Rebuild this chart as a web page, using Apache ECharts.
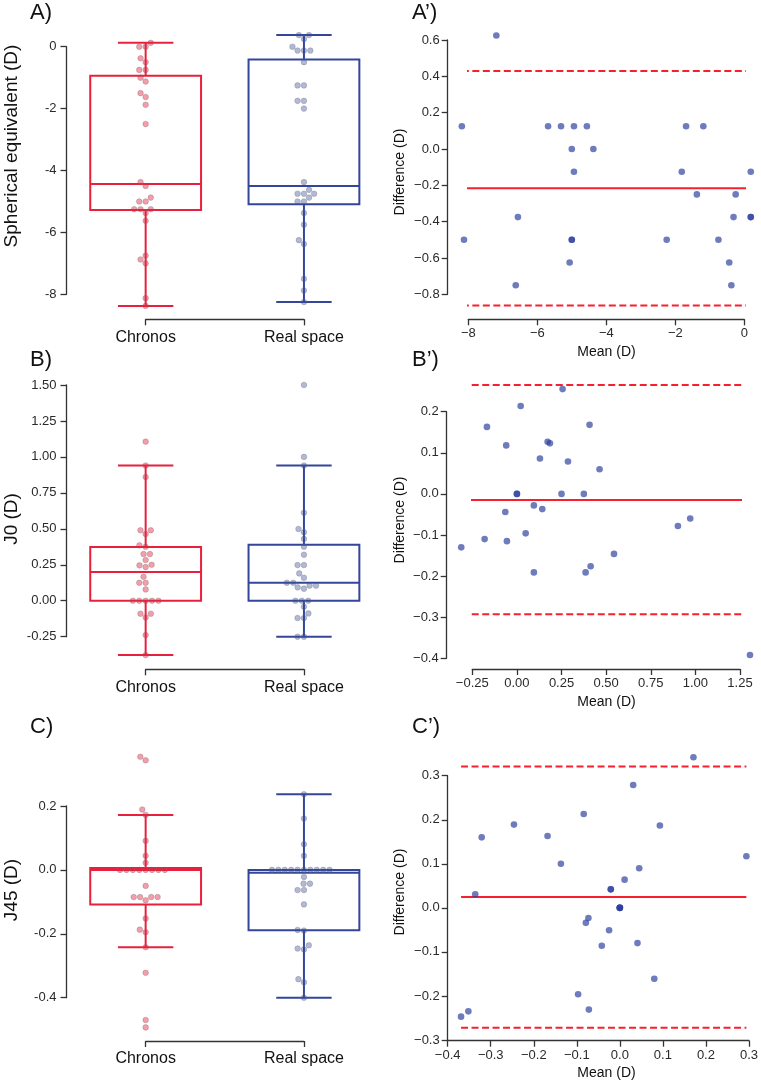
<!DOCTYPE html>
<html>
<head>
<meta charset="utf-8">
<script src="https://cdn.jsdelivr.net/npm/echarts@6/dist/echarts.min.js"></script>
<style>
html,body{margin:0;padding:0;background:#fff;}
#chart{width:761px;height:1081px;}
</style>
</head>
<body>
<div id="chart"></div>
<script>
// ---------------- DATA ----------------
const categories = ['Chronos', 'Real space'];

// Panel A: Spherical equivalent (D)
const chronosSE = [0.125, 0, 0, -0.375, -0.5, -0.75, -0.75, -1.0, -1.125, -1.5, -1.625, -1.875, -2.5, -4.375, -4.5, -4.875, -5.0, -5.0, -5.25, -5.25, -5.25, -5.375, -5.625, -6.75, -6.875, -7.0, -8.125, -8.375];
const realSE = [0.375, 0.375, 0.25, 0, -0.125, -0.125, -0.125, -0.5, -1.25, -1.25, -1.75, -1.75, -2.0, -4.375, -4.625, -4.75, -4.75, -4.75, -4.875, -5.0, -5.0, -5.375, -5.75, -6.25, -6.375, -7.5, -7.875, -8.25];
// box stats: [min whisker, Q1, median, Q3, max whisker]
const boxChronosSE = [-8.375, -5.28, -4.44, -0.94, 0.125];
const boxRealSE = [-8.25, -5.09, -4.5, -0.41, 0.375];

// Panel A': Bland-Altman SE
const meanSE = [-7.1875, -8.1875, -8.125, -6.5625, -6.625, -5.6875, -5.3125, -4.9375, -4.5625, -5.0, -4.375, -4.9375, -5.0, -5.0, -5.0625, -2.25, -1.8125, -1.6875, -1.1875, -1.375, -0.75, -0.4375, -0.375, -0.3125, -0.25, 0.1875, 0.1875, 0.1875];
const diffSE = [0.625, 0.125, -0.5, -0.375, -0.75, 0.125, 0.125, 0.125, 0.125, 0, 0, -0.125, -0.5, -0.5, -0.625, -0.5, -0.125, 0.125, 0.125, -0.25, -0.5, -0.625, -0.75, -0.375, -0.25, -0.125, -0.375, -0.375];
const loaSE = [-0.216, 0.429, -0.861]; // mean, upper, lower

// Panel B: J0 (D)
const chronosJ0 = [1.106, 0.94, 0.86, 0.49, 0.49, 0.464, 0.385, 0.375, 0.325, 0.325, 0.283, 0.25, 0.246, 0.234, 0.167, 0.125, 0.125, 0.079, 0, 0, 0, 0, 0, -0.09, -0.09, -0.116, -0.239, -0.378];
const realJ0 = [1.5, 1.0, 0.94, 0.612, 0.499, 0.476, 0.43, 0.376, 0.32, 0.248, 0.248, 0.19, 0.16, 0.125, 0.125, 0.105, 0.105, 0.093, 0.084, 0, 0, 0, -0.042, -0.088, -0.12, -0.12, -0.25, -0.25];
const boxChronosJ0 = [-0.378, 0.0, 0.20, 0.373, 0.94];
const boxRealJ0 = [-0.25, 0.0, 0.125, 0.39, 0.94];

// Panel B': Bland-Altman J0
const meanJ0 = [-0.312, -0.181, -0.168, -0.060, -0.065, -0.056, 0, 0, 0.021, 0.049, 0.095, 0.095, 0.129, 0.142, 0.172, 0.185, 0.250, 0.256, 0.286, 0.375, 0.385, 0.407, 0.413, 0.463, 0.544, 0.902, 0.971, 1.306];
const diffJ0 = [-0.130, -0.110, 0.163, 0.118, -0.044, -0.115, 0, 0, 0.214, -0.096, -0.028, -0.191, 0.086, -0.037, 0.127, 0.123, 0, 0.255, 0.079, 0, -0.191, 0.168, -0.176, 0.060, -0.146, -0.078, -0.060, -0.392];
const loaJ0 = [-0.0146, 0.265, -0.293];

// Panel C: J45 (D)
const chronosJ45 = [0.354, 0.343, 0.189, 0.172, 0.091, 0.044, 0.022, 0, 0, 0, 0, 0, 0, 0, 0, -0.05, -0.085, -0.085, -0.085, -0.085, -0.095, -0.152, -0.187, -0.195, -0.242, -0.322, -0.47, -0.493];
const realJ45 = [0.237, 0.161, 0.08, 0.044, 0, 0, 0, 0, 0, 0, 0, 0, 0, 0, -0.022, -0.043, -0.043, -0.063, -0.063, -0.108, -0.188, -0.19, -0.236, -0.246, -0.249, -0.342, -0.352, -0.40];
const boxChronosJ45 = [-0.242, -0.108, 0.0, 0.006, 0.172];
const boxRealJ45 = [-0.40, -0.189, -0.009, 0.0, 0.237];

// Panel C': Bland-Altman J45
const meanJ45 = [-0.369, -0.352, -0.336, -0.321, -0.246, -0.168, -0.137, -0.097, -0.084, -0.079, -0.073, -0.072, -0.042, -0.025, -0.021, -0.021, 0, 0, 0, 0, 0.011, 0.031, 0.041, 0.045, 0.080, 0.093, 0.171, 0.294];
const diffJ45 = [-0.247, -0.235, 0.031, 0.160, 0.189, 0.163, 0.100, -0.196, 0.213, -0.034, -0.023, -0.231, -0.086, -0.051, 0.042, 0.042, 0, 0, 0, 0, 0.064, 0.279, -0.080, 0.090, -0.161, 0.187, 0.342, 0.117];
const loaJ45 = [0.0245, 0.321, -0.272];

// ---------------- STYLE / LAYOUT ----------------
const FONT = '"Liberation Sans", Arial, sans-serif';
const RED = '#E8203D';
const BLUE = '#33469A';
const PT_FILL = ['rgba(232,32,61,0.44)', 'rgba(51,70,154,0.38)'];
const PT_EDGE = 'rgba(110,110,110,0.55)';
const BA_DOT = 'rgba(43,63,158,0.86)';
const LOA_RED = '#F8202F';
const SPINE = '#333333';
const TICK_TXT = '#2a2a2a';

const boxPanels = [
  {grid:{left:66.5, top:46.7, width:316.6, height:247.6}, spineTop:318.3, y:[-8, 0, 2], dec:0,
   data:[chronosSE, realSE], box:[boxChronosSE, boxRealSE], name:'Spherical equivalent (D)', nameY:146, title:'A)', titleY:12.5},
  {grid:{left:66.5, top:385, width:316.6, height:251.7}, spineTop:668.3, y:[-0.25, 1.5, 0.25], dec:2,
   data:[chronosJ0, realJ0], box:[boxChronosJ0, boxRealJ0], name:'J0 (D)', nameY:519, title:'B)', titleY:360},
  {grid:{left:66.5, top:806, width:316.6, height:191.7}, spineTop:1040, y:[-0.4, 0.2, 0.2], dec:1,
   data:[chronosJ45, realJ45], box:[boxChronosJ45, boxRealJ45], name:'J45 (D)', nameY:890, title:'C)', titleY:727}
];
const baPanels = [
  {grid:{left:468.3, top:40, width:276, height:254.3}, x:[-8, 0, 2], xdec:0, y:[-0.8, 0.6, 0.2], ydec:1, xoff:25, yoff:20.6,
   mean:meanSE, diff:diffSE, loa:loaSE, nameY:172, xnameY:351.7, title:'A\u2019)', titleY:12.5},
  {grid:{left:472.3, top:411.7, width:267.7, height:246.6}, x:[-0.25, 1.25, 0.25], xdec:2, y:[-0.4, 0.2, 0.1], ydec:1, xoff:10.7, yoff:25.6,
   mean:meanJ0, diff:diffJ0, loa:loaJ0, nameY:520, xnameY:702, title:'B\u2019)', titleY:360},
  {grid:{left:447.7, top:775.7, width:305, height:264.3}, x:[-0.4, 0.3, 0.1], xdec:1, y:[-0.3, 0.3, 0.1], ydec:1, xoff:0.7, yoff:0,
   mean:meanJ45, diff:diffJ45, loa:loaJ45, nameY:892, xnameY:1072.7, title:'C\u2019)', titleY:727}
];

function fmt(dec, minusChar) {
  return function (v) {
    if (Math.abs(v) < 1e-9) v = 0;
    return v.toFixed(dec).replace('-', minusChar);
  };
}

// beeswarm layout (seaborn-like), in pixel space
function swarmOffsets(values, pxPerY, d) {
  const order = values.map((v, i) => i).sort((a, b) => values[a] - values[b]);
  const placed = [];
  const off = new Array(values.length).fill(0);
  for (const i of order) {
    const y = values[i] * pxPerY;
    const neigh = placed.filter(p => Math.abs(p.y - y) < d);
    const cands = [0];
    for (const p of neigh) {
      const dx = Math.sqrt(Math.max(0, d * d - (p.y - y) * (p.y - y)));
      cands.push(p.x - dx, p.x + dx);
    }
    cands.sort((a, b) => Math.abs(a) - Math.abs(b));
    let x = 0;
    for (const c of cands) {
      if (neigh.every(p => (p.x - c) * (p.x - c) + (p.y - y) * (p.y - y) >= d * d - 1e-6)) { x = c; break; }
    }
    placed.push({x: x, y: y});
    off[i] = x;
  }
  return off;
}

const grids = [], xAxes = [], yAxes = [], series = [], graphics = [];
const axisLineCfg = {show: true, onZero: false, lineStyle: {color: SPINE, width: 1.3}};
const tickCfg = {show: true, length: 6, lineStyle: {color: SPINE, width: 1.3}};

boxPanels.forEach((P) => {
  // main grid
  const gi = grids.length;
  grids.push(Object.assign({containLabel: false}, P.grid));
  xAxes.push({gridIndex: gi, type: 'value', min: -0.5, max: 1.5, show: false, axisLine: {onZero: false}});
  yAxes.push({gridIndex: gi, type: 'value', min: P.y[0], max: P.y[1], interval: P.y[2],
    axisLine: axisLineCfg, axisTick: tickCfg, splitLine: {show: false},
    axisLabel: {formatter: fmt(P.dec, '-'), fontFamily: FONT, fontSize: 13, color: TICK_TXT, margin: 10}});
  // spine grid for the trimmed category axis
  const si = grids.length;
  grids.push({left: P.grid.left + P.grid.width / 4, width: P.grid.width / 2, top: P.spineTop, height: 1});
  xAxes.push({gridIndex: si, type: 'category', data: categories, boundaryGap: false,
    axisLine: axisLineCfg, axisTick: tickCfg,
    axisLabel: {fontFamily: FONT, fontSize: 16, color: '#111', margin: 10}});
  yAxes.push({gridIndex: si, type: 'value', show: false, axisLine: {onZero: false}});

  // box plots
  const boxColors = [RED, BLUE];
  series.push({
    type: 'custom', xAxisIndex: gi, yAxisIndex: gi, clip: false, silent: true, z: 2,
    data: P.box.map((b, k) => [k, b[0], b[1], b[2], b[3], b[4]]),
    renderItem: function (params, api) {
      const k = api.value(0);
      const col = boxColors[k];
      const pMin = api.coord([k, api.value(1)]);
      const pQ1 = api.coord([k, api.value(2)]);
      const pMed = api.coord([k, api.value(3)]);
      const pQ3 = api.coord([k, api.value(4)]);
      const pMax = api.coord([k, api.value(5)]);
      const halfW = api.size([0.35, 0])[0];
      const capHalf = api.size([0.175, 0])[0];
      const cx = pMed[0];
      const ls = {stroke: col, lineWidth: 2, fill: null};
      return {type: 'group', children: [
        {type: 'line', shape: {x1: cx, y1: pQ3[1], x2: cx, y2: pMax[1]}, style: ls},
        {type: 'line', shape: {x1: cx, y1: pQ1[1], x2: cx, y2: pMin[1]}, style: ls},
        {type: 'line', shape: {x1: cx - capHalf, y1: pMax[1], x2: cx + capHalf, y2: pMax[1]}, style: ls},
        {type: 'line', shape: {x1: cx - capHalf, y1: pMin[1], x2: cx + capHalf, y2: pMin[1]}, style: ls},
        {type: 'rect', shape: {x: cx - halfW, y: pQ3[1], width: 2 * halfW, height: pQ1[1] - pQ3[1]}, style: {stroke: col, lineWidth: 2, fill: 'none'}},
        {type: 'line', shape: {x1: cx - halfW, y1: pMed[1], x2: cx + halfW, y2: pMed[1]}, style: ls}
      ]};
    }
  });
  // swarm points
  const pxPerY = P.grid.height / (P.y[1] - P.y[0]);
  const pxPerX = P.grid.width / 2;
  P.data.forEach((vals, k) => {
    const offs = swarmOffsets(vals, pxPerY, 6.4);
    series.push({
      type: 'scatter', xAxisIndex: gi, yAxisIndex: gi, clip: false, silent: true, z: 3,
      symbol: 'circle', symbolSize: 5.6,
      itemStyle: {color: PT_FILL[k], borderColor: PT_EDGE, borderWidth: 0.6, opacity: 1},
      data: vals.map((v, j) => [k + offs[j] / pxPerX, v])
    });
  });
  graphics.push({type: 'text', x: 12, y: P.nameY, rotation: Math.PI / 2,
    style: {text: P.name, font: '19px ' + FONT, fill: '#111', align: 'center', verticalAlign: 'middle'}});
  graphics.push({type: 'text', x: 30, y: P.titleY,
    style: {text: P.title, font: '22px ' + FONT, fill: '#111', align: 'left', verticalAlign: 'middle'}});
});

baPanels.forEach((P) => {
  const gi = grids.length;
  grids.push(Object.assign({containLabel: false}, P.grid));
  xAxes.push({gridIndex: gi, type: 'value', min: P.x[0], max: P.x[1], interval: P.x[2], offset: P.xoff,
    axisLine: axisLineCfg, axisTick: tickCfg, splitLine: {show: false},
    axisLabel: {formatter: fmt(P.xdec, '\u2212'), fontFamily: FONT, fontSize: 13, color: TICK_TXT, margin: 8}});
  yAxes.push({gridIndex: gi, type: 'value', min: P.y[0], max: P.y[1], interval: P.y[2], offset: P.yoff,
    axisLine: axisLineCfg, axisTick: tickCfg, splitLine: {show: false},
    axisLabel: {formatter: fmt(P.ydec, '\u2212'), fontFamily: FONT, fontSize: 13, color: TICK_TXT, margin: 8}});
  const xmin = Math.min.apply(null, P.mean), xmax = Math.max.apply(null, P.mean);
  P.loa.forEach((v, j) => {
    series.push({
      type: 'line', xAxisIndex: gi, yAxisIndex: gi, clip: false, silent: true, z: 2,
      symbol: 'none', data: [[xmin, v], [xmax, v]],
      lineStyle: {color: LOA_RED, width: 2, type: j === 0 ? 'solid' : [7, 3.5]}
    });
  });
  series.push({
    type: 'scatter', xAxisIndex: gi, yAxisIndex: gi, clip: false, silent: true, z: 3,
    symbol: 'circle', symbolSize: 6.6,
    itemStyle: {color: BA_DOT},
    data: P.mean.map((m, j) => [m, P.diff[j]])
  });
  graphics.push({type: 'text', x: 400, y: P.nameY, rotation: Math.PI / 2,
    style: {text: 'Difference (D)', font: '14px ' + FONT, fill: '#111', align: 'center', verticalAlign: 'middle'}});
  graphics.push({type: 'text', x: 606.5, y: P.xnameY,
    style: {text: 'Mean (D)', font: '14px ' + FONT, fill: '#111', align: 'center', verticalAlign: 'middle'}});
  graphics.push({type: 'text', x: 412, y: P.titleY,
    style: {text: P.title, font: '22px ' + FONT, fill: '#111', align: 'left', verticalAlign: 'middle'}});
});

const chart = echarts.init(document.getElementById('chart'), null, {renderer: 'canvas'});
chart.setOption({
  animation: false,
  backgroundColor: '#ffffff',
  textStyle: {fontFamily: FONT},
  grid: grids,
  xAxis: xAxes,
  yAxis: yAxes,
  series: series,
  graphic: graphics
});
</script>
</body>
</html>
